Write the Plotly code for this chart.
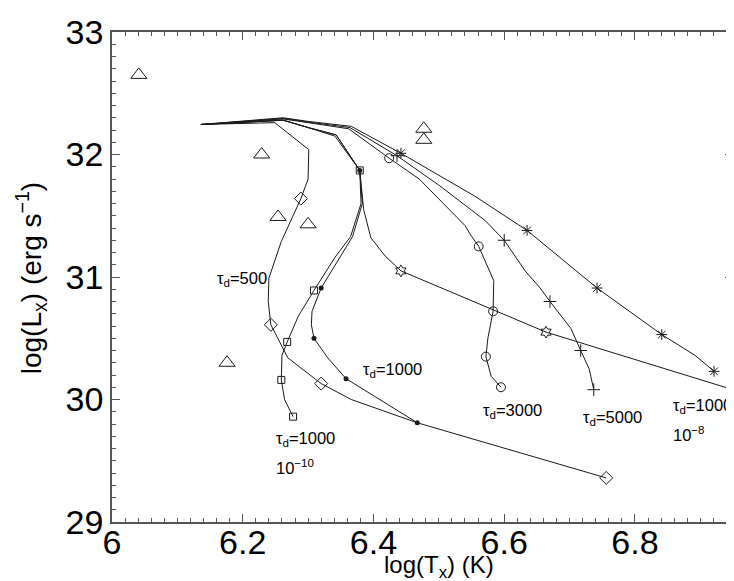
import plotly.graph_objects as go

# ---------------- data ----------------
# tau_d = 500 track (diamonds)
d500_x = [6.136, 6.249, 6.301, 6.300, 6.289, 6.259, 6.240, 6.239, 6.243, 6.269, 6.320, 6.366, 6.467, 6.756]
d500_y = [32.245, 32.26, 32.04, 31.80, 31.64, 31.29, 30.99, 30.80, 30.61, 30.34, 30.13, 30.00, 29.81, 29.36]
d500_mx = [6.289, 6.243, 6.320, 6.756]
d500_my = [31.64, 30.61, 30.13, 29.36]

# tau_d = 1000, 1e-10 track (squares)
sq_x = [6.136, 6.262, 6.300, 6.341, 6.379, 6.381, 6.365, 6.341, 6.309, 6.285, 6.268, 6.260, 6.259, 6.264, 6.277]
sq_y = [32.245, 32.28, 32.22, 32.15, 31.87, 31.60, 31.33, 31.16, 30.89, 30.68, 30.47, 30.36, 30.16, 30.00, 29.86]
sq_mx = [6.379, 6.309, 6.268, 6.259, 6.277]
sq_my = [31.87, 30.89, 30.47, 30.16, 29.86]

# tau_d = 1000 track (dots)
dot_x = [6.136, 6.262, 6.300, 6.343, 6.379, 6.383, 6.368, 6.349, 6.320, 6.306, 6.305, 6.309, 6.330, 6.358, 6.467]
dot_y = [32.245, 32.28, 32.22, 32.16, 31.87, 31.60, 31.33, 31.16, 30.91, 30.72, 30.61, 30.50, 30.34, 30.17, 29.81]
dot_mx = [6.379, 6.320, 6.309, 6.358, 6.467]
dot_my = [31.87, 30.91, 30.50, 30.17, 29.81]

# hexagram track
hx_x = [6.136, 6.262, 6.300, 6.343, 6.379, 6.385, 6.396, 6.418, 6.442, 6.664, 6.95]
hx_y = [32.245, 32.28, 32.22, 32.16, 31.87, 31.55, 31.32, 31.17, 31.05, 30.55, 30.08]
hx_mx = [6.442, 6.664]
hx_my = [31.05, 30.55]

# tau_d = 3000 track (circles)
ci_x = [6.136, 6.262, 6.300, 6.362, 6.424, 6.470, 6.540, 6.549, 6.561, 6.584, 6.583, 6.575, 6.572, 6.580, 6.595]
ci_y = [32.245, 32.29, 32.26, 32.21, 31.97, 31.80, 31.42, 31.34, 31.25, 30.97, 30.72, 30.50, 30.35, 30.19, 30.10]
ci_mx = [6.424, 6.561, 6.583, 6.572, 6.595]
ci_my = [31.97, 31.25, 30.72, 30.35, 30.10]

# tau_d = 5000 track (plus)
pl_x = [6.136, 6.262, 6.300, 6.364, 6.436, 6.500, 6.571, 6.600, 6.632, 6.655, 6.670, 6.702, 6.717, 6.730, 6.737]
pl_y = [32.245, 32.295, 32.265, 32.22, 31.99, 31.75, 31.46, 31.30, 31.05, 30.91, 30.80, 30.58, 30.40, 30.25, 30.08]
pl_mx = [6.436, 6.600, 6.670, 6.717, 6.737]
pl_my = [31.99, 31.30, 30.80, 30.40, 30.08]

# tau_d = 1000, 1e-8 track (asterisks)
st_x = [6.136, 6.262, 6.300, 6.366, 6.442, 6.555, 6.635, 6.742, 6.841, 6.892, 6.921]
st_y = [32.245, 32.30, 32.27, 32.23, 32.01, 31.66, 31.38, 30.91, 30.53, 30.36, 30.23]
st_mx = [6.442, 6.635, 6.742, 6.841, 6.921]
st_my = [32.01, 31.38, 30.91, 30.53, 30.23]

# observed sources (open triangles)
tri_x = [6.041, 6.229, 6.254, 6.300, 6.176, 6.477, 6.477]
tri_y = [32.65, 32.00, 31.49, 31.43, 30.30, 32.21, 32.12]

# curve labels
lab_text = ["τ<sub>d</sub>=500", "τ<sub>d</sub>=1000", "τ<sub>d</sub>=1000", "10<sup>−10</sup>",
            "τ<sub>d</sub>=3000", "τ<sub>d</sub>=5000", "τ<sub>d</sub>=1000", "10<sup>−8</sup>"]
lab_x = [6.157, 6.381, 6.248, 6.248, 6.564, 6.717, 6.855, 6.855]
lab_y = [30.98, 30.24, 29.68, 29.45, 29.91, 29.85, 29.95, 29.72]

x_ticks = [6.0, 6.2, 6.4, 6.6, 6.8]
x_tick_text = ["6", "6.2", "6.4", "6.6", "6.8"]
y_ticks = [29, 30, 31, 32, 33]
y_tick_text = ["29", "30", "31", "32", "33"]

# ---------------- figure ----------------
LC = "#1a1a1a"
AX = "#555555"
FONT = "Liberation Sans, Arial, Helvetica, sans-serif"

fig = go.Figure()

def track(x, y):
    fig.add_trace(go.Scatter(x=x, y=y, mode="lines",
                             line=dict(color=LC, width=1), hoverinfo="skip"))

def marks(x, y, symbol, size, width=1):
    fig.add_trace(go.Scatter(x=x, y=y, mode="markers",
                             marker=dict(symbol=symbol, size=size, color=LC,
                                         line=dict(color=LC, width=width)),
                             hoverinfo="skip"))

for xs, ys in [(d500_x, d500_y), (sq_x, sq_y), (dot_x, dot_y), (hx_x, hx_y),
               (ci_x, ci_y), (pl_x, pl_y), (st_x, st_y)]:
    track(xs, ys)

marks(d500_mx, d500_my, "diamond-open", 10)
marks(sq_mx, sq_my, "square-open", 7)
marks(dot_mx, dot_my, "circle", 5, 0)
marks(hx_mx, hx_my, "hexagram-open", 9)
marks(ci_mx, ci_my, "circle-open", 9)
marks(pl_mx, pl_my, "cross-thin-open", 9)
marks(st_mx, st_my, "asterisk-open", 9)
marks(tri_x, tri_y, "triangle-up-open", 14)

for t, x, y in zip(lab_text, lab_x, lab_y):
    fig.add_annotation(x=x, y=y, text=t, showarrow=False, xanchor="left",
                       yanchor="middle", font=dict(family=FONT, size=16.5, color="black"))

# axis titles
fig.add_annotation(xref="paper", yref="paper", x=0.527, y=-0.0905,
                   text="log(T<sub>x</sub>) (K)", showarrow=False,
                   xanchor="center", yanchor="middle", borderpad=0,
                   font=dict(family=FONT, size=24, color="black"))
fig.add_annotation(xref="paper", yref="paper", x=-0.13, y=0.498,
                   text="log(L<sub>x</sub>) (erg s<sup>−1</sup>)", showarrow=False,
                   textangle=-90, xanchor="center", yanchor="middle",
                   font=dict(family=FONT, size=28, color="black"))

axis_common = dict(showline=True, linecolor=AX, linewidth=1.5, mirror="allticks",
                   ticks="inside", tickcolor=AX, tickwidth=1, ticklen=8,
                   showgrid=False, zeroline=False, automargin=False,
                   tickfont=dict(family=FONT, size=34, color="black"))

fig.update_xaxes(range=[6.0, 6.95], tickvals=x_ticks, ticktext=x_tick_text,
                 ticklabelstandoff=-11,
                 minor=dict(ticks="inside", dtick=0.02, tick0=6.0, ticklen=4,
                            tickcolor=AX, tickwidth=1, showgrid=False),
                 **axis_common)
fig.update_yaxes(range=[29, 33], tickvals=y_ticks, ticktext=y_tick_text,
                 minor=dict(ticks="inside", dtick=0.1, tick0=29, ticklen=4,
                            tickcolor=AX, tickwidth=1, showgrid=False),
                 **axis_common)

fig.update_layout(template="none", width=734, height=581, showlegend=False,
                  margin=dict(l=104, r=9, t=24, b=67, autoexpand=False),
                  paper_bgcolor="white", plot_bgcolor="white",
                  font=dict(family=FONT, color="black"))

fig.write_html("out.html")
